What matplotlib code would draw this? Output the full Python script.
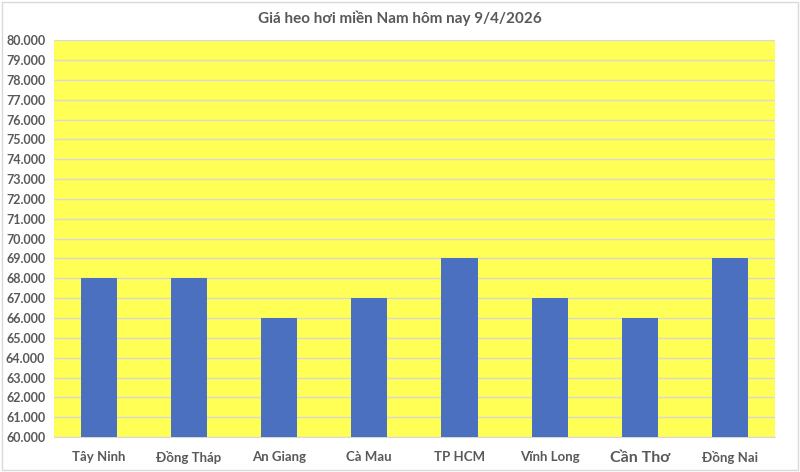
import numpy as np
import matplotlib.pyplot as plt
from matplotlib.ticker import FuncFormatter, MultipleLocator

plt.rcParams['font.family'] = ['Lato', 'DejaVu Sans']

provinces = ['Tây Ninh', 'Đồng Tháp', 'An Giang', 'Cà Mau',
             'TP HCM', 'Vĩnh Long', 'Cần Thơ', 'Đồng Nai']
prices = [68000, 68000, 66000, 67000, 69000, 67000, 66000, 69000]
title = 'Giá heo hơi miền Nam hôm nay 9/4/2026'

text_col = '#595959'

fig = plt.figure(figsize=(8, 4.72), dpi=100)
ax = fig.add_axes([0.067, 0.074, 0.902, 0.841])

x = np.arange(len(provinces))
ax.bar(x, prices, width=0.4, color='#4A70BF', zorder=3)

ax.set_facecolor('#FFFF55')
ax.set_xlim(-0.5, len(provinces) - 0.5)
ax.set_ylim(60000, 80000)
ax.yaxis.set_major_locator(MultipleLocator(1000))
ax.yaxis.set_major_formatter(FuncFormatter(lambda v, p: f'{v:,.0f}'.replace(',', '.')))
ax.grid(axis='y', color='#D9D9D9', linewidth=1, zorder=0)

for s in ['top', 'right', 'left']:
    ax.spines[s].set_visible(False)
ax.spines['bottom'].set_color('#D9D9D9')
ax.tick_params(length=0, colors=text_col)
ax.tick_params(axis='y', pad=6)
ax.tick_params(axis='x', pad=10)

ax.set_xticks(x)
ax.set_xticklabels(provinces)
for lbl in ax.get_xticklabels():
    if lbl.get_text() == 'Cần Thơ':
        lbl.set_fontsize(11.5)
        lbl.set_fontweight('bold')
    else:
        lbl.set_fontsize(9.5)
        lbl.set_fontweight('bold')
for lbl in ax.get_yticklabels():
    lbl.set_fontsize(9)
    lbl.set_fontweight('bold')

fig.text(0.5, 0.962, title, ha='center', va='center', fontsize=11,
         fontweight='bold', color=text_col)

fig.patches.append(plt.Rectangle((0.003, 0.005), 0.994, 0.99, transform=fig.transFigure,
                                 fill=False, edgecolor='#D9D9D9', linewidth=1))

fig.savefig('out.png', dpi=100)
